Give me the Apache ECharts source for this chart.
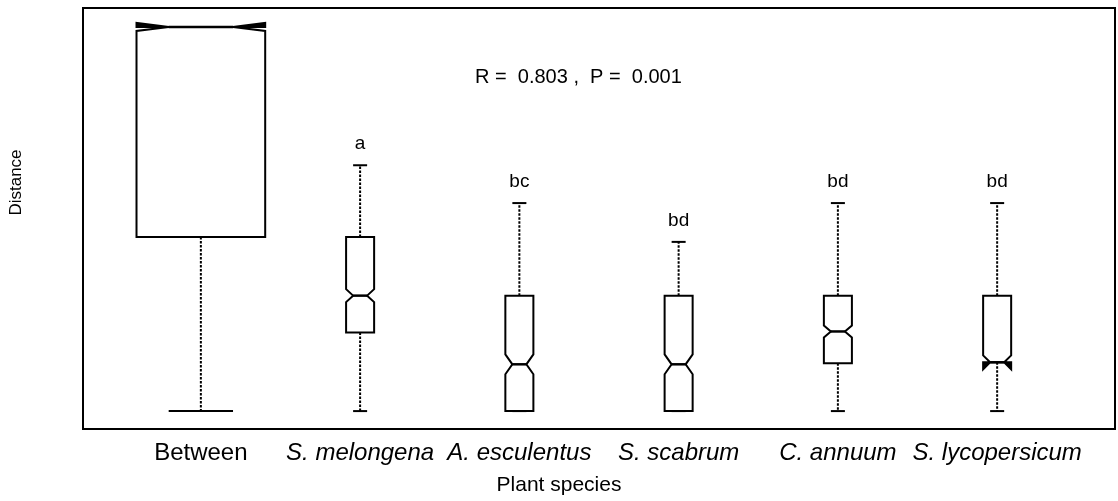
<!DOCTYPE html>
<html>
<head>
<meta charset="utf-8">
<script src="https://cdn.jsdelivr.net/npm/echarts@6/dist/echarts.min.js"></script>
<style>
  html, body { margin: 0; padding: 0; background: #fff; }
  #chart { width: 1118px; height: 501px; }
</style>
</head>
<body>
<div id="chart"></div>
<script>
// ---- data ----
const categories   = ['Between', 'S. melongena', 'A. esculentus', 'S. scabrum', 'C. annuum', 'S. lycopersicum'];
const whiskerLow   = [0.200, 0.200, 0.200, 0.200, 0.200, 0.200];
const lowerHinge   = [0.550, 0.358, 0.200, 0.200, 0.296, 0.298];
const medians      = [0.972, 0.432, 0.294, 0.294, 0.360, 0.298];
const upperHinge   = [0.972, 0.550, 0.432, 0.432, 0.432, 0.432];
const whiskerHigh  = [0.972, 0.694, 0.618, 0.540, 0.618, 0.618];
const notchLow     = [0.964, 0.419, 0.274, 0.274, 0.348, 0.284];
const notchHigh    = [0.980, 0.445, 0.314, 0.314, 0.372, 0.312];
const letters      = ['', 'a', 'bc', 'bd', 'bd', 'bd'];
const statText     = 'R =  0.803 ,  P =  0.001';

// ---- styling constants ----
const FONT = 'Liberation Sans, Arial, sans-serif';
const halfWidths = [0.404, 0.088, 0.088, 0.088, 0.088, 0.088]; // in category units (varwidth look)

const seriesData = categories.map((c, i) => [
  i + 1, whiskerLow[i], lowerHinge[i], medians[i], upperHinge[i], whiskerHigh[i], notchLow[i], notchHigh[i], i
]);

function renderItem(params, api) {
  const xv = api.value(0);
  const lo = api.value(1), q1 = api.value(2), med = api.value(3), q3 = api.value(4), hi = api.value(5);
  const cLo = api.value(6), cHi = api.value(7);
  const idx = api.value(8);
  const hw = halfWidths[idx];
  const P = (dx, v) => api.coord([xv + dx, v]);
  const stroke = { stroke: '#000', lineWidth: 2, fill: null };
  const dashed = { stroke: '#000', lineWidth: 2, lineDash: [2.5, 1.5], fill: null };
  const children = [];
  const c = P(0, 0)[0];
  // whiskers
  const yq3 = P(0, q3)[1], yhi = P(0, hi)[1], yq1 = P(0, q1)[1], ylo = P(0, lo)[1], ymed = P(0, med)[1];
  if (hi > q3) children.push({ type: 'line', shape: { x1: c, y1: yq3, x2: c, y2: yhi }, style: dashed });
  if (lo < q1) children.push({ type: 'line', shape: { x1: c, y1: yq1, x2: c, y2: ylo }, style: dashed });
  // staples
  const sx1 = P(-hw / 2, 0)[0], sx2 = P(hw / 2, 0)[0];
  children.push({ type: 'line', shape: { x1: sx1, y1: yhi, x2: sx2, y2: yhi }, style: stroke });
  children.push({ type: 'line', shape: { x1: sx1, y1: ylo, x2: sx2, y2: ylo }, style: stroke });
  // notched box
  const pts = [
    P(-hw, q1), P(-hw, cLo), P(-hw / 2, med), P(-hw, cHi), P(-hw, q3),
    P(hw, q3), P(hw, cHi), P(hw / 2, med), P(hw, cLo), P(hw, q1)
  ];
  children.push({ type: 'polygon', shape: { points: pts }, style: { fill: '#fff', stroke: '#000', lineWidth: 2, lineJoin: 'miter' } });
  // median segment across the notch
  children.push({ type: 'line', shape: { x1: P(-hw / 2, 0)[0], y1: ymed, x2: P(hw / 2, 0)[0], y2: ymed }, style: { stroke: '#000', lineWidth: 2.5 } });
  // notch parts reaching beyond the hinges
  if (cHi > q3) {
    children.push({ type: 'polygon', shape: { points: [P(-hw, q3), P(-hw, cHi), P(-hw / 2, med)] }, style: { fill: '#000' } });
    children.push({ type: 'polygon', shape: { points: [P(hw, q3), P(hw, cHi), P(hw / 2, med)] }, style: { fill: '#000' } });
  }
  if (cLo < q1) {
    children.push({ type: 'polygon', shape: { points: [P(-hw, q1), P(-hw, cLo), P(-hw / 2, med)] }, style: { fill: '#000' } });
    children.push({ type: 'polygon', shape: { points: [P(hw, q1), P(hw, cLo), P(hw / 2, med)] }, style: { fill: '#000' } });
  }
  // significance letter
  if (letters[idx]) {
    children.push({
      type: 'text',
      style: { text: letters[idx], x: c, y: yhi - 21, align: 'center', verticalAlign: 'middle',
               font: '19px ' + FONT, fill: '#000' }
    });
  }
  return { type: 'group', children };
}

const chart = echarts.init(document.getElementById('chart'), null, { renderer: 'canvas' });
chart.setOption({
  animation: false,
  backgroundColor: '#fff',
  title: {
    text: statText,
    left: 475, top: 67, padding: 0,
    textStyle: { fontFamily: FONT, fontSize: 20, fontWeight: 'normal', color: '#000' }
  },
  grid: {
    left: 82, right: 3, top: 8, bottom: 70,
    show: true, borderColor: '#000', borderWidth: 2, backgroundColor: 'transparent'
  },
  xAxis: {
    type: 'value', min: 0.26, max: 6.74,
    splitLine: { show: false }, axisLine: { show: false }, axisTick: { show: false },
    axisLabel: {
      customValues: [1, 2, 3, 4, 5, 6],
      margin: 12,
      formatter: v => {
        const name = categories[Math.round(v) - 1];
        return Math.round(v) === 1 ? '{n|' + name + '}' : '{i|' + name + '}';
      },
      rich: {
        n: { fontFamily: FONT, fontSize: 24, color: '#000' },
        i: { fontFamily: FONT, fontSize: 24, fontStyle: 'italic', color: '#000' }
      }
    },
    name: 'Plant species', nameLocation: 'middle', nameGap: 46,
    nameTextStyle: { fontFamily: FONT, fontSize: 21, color: '#000', padding: [0, 80, 0, 0] }
  },
  yAxis: {
    type: 'value', min: 0.164, max: 1.01,
    splitLine: { show: false }, axisLine: { show: false }, axisTick: { show: false }, axisLabel: { show: false },
    name: 'Distance', nameLocation: 'middle', nameGap: 58, nameRotate: 90,
    nameTextStyle: { fontFamily: FONT, fontSize: 17, color: '#000', padding: [0, 0, 0, 72] }
  },
  series: [{
    type: 'custom',
    renderItem,
    encode: { x: 0, y: [1, 2, 3, 4, 5, 6, 7] },
    data: seriesData,
    clip: false
  }]
});
</script>
</body>
</html>
